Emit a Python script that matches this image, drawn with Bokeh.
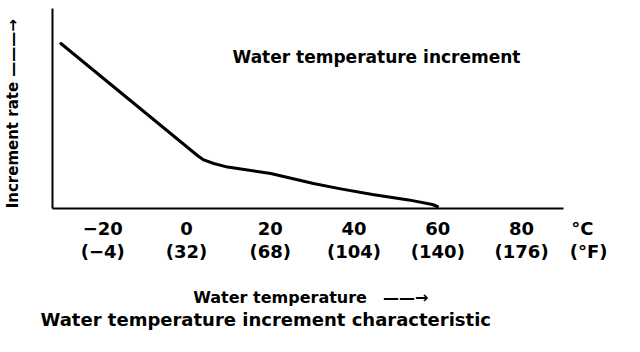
from bokeh.plotting import figure
from bokeh.models import Range1d, FixedTicker, LinearAxis, Label, Title
from bokeh.embed import file_html
from bokeh.resources import INLINE

# ---- data ----
temp_c = [-30.0, 2.6, 4.1, 6.5, 9.8, 12.2, 20.1, 30.3, 36.8, 44.4, 53.0, 58.7, 59.9]
rate = [8.25, 2.65, 2.43, 2.25, 2.07, 2.0, 1.75, 1.25, 0.98, 0.70, 0.43, 0.20, 0.10]
tick_c = [-20, 0, 20, 40, 60, 80]
tick_c_labels = ["\u221220", "0", "20", "40", "60", "80"]
tick_f_labels = ["(\u22124)", "(32)", "(68)", "(104)", "(140)", "(176)"]

title_text = "Water temperature increment"
y_label_text = "Increment rate \u2014\u2014\u2014\u2192"
x_label_text = "Water temperature\u2003\u2014\u2014\u2192"
caption_text = "Water temperature increment characteristic"
unit_c = "\u00b0C"
unit_f = "(\u00b0F)"

x_start, x_end = -32, 90
FONT = "DejaVu Sans"
W, H = 640, 352
NB = "\u00a0"

p = figure(width=W, height=H, output_backend="svg", toolbar_location=None,
           x_range=Range1d(x_start, x_end), y_range=Range1d(0, 10),
           min_border_left=52, min_border_right=77, min_border_top=8,
           min_border_bottom=144, x_axis_type=None, y_axis_type=None)
p.outline_line_color = None
p.background_fill_color = "white"
p.border_fill_color = "white"

common = dict(major_tick_line_color=None, minor_tick_line_color=None,
              major_tick_in=0, major_tick_out=0, minor_tick_in=0, minor_tick_out=0,
              major_label_text_font=FONT, major_label_text_font_style="bold",
              major_label_text_font_size="18px", major_label_text_color="black")

# unit labels sit at the right end of the scale
c_over = {t: l for t, l in zip(tick_c, tick_c_labels)}
c_over[x_end] = NB * 6 + unit_c
f_over = {t: l for t, l in zip(tick_c, tick_f_labels)}
f_over[x_end] = NB * 8 + unit_f

ax_c = LinearAxis(ticker=FixedTicker(ticks=tick_c + [x_end]),
                  major_label_overrides=c_over,
                  axis_line_width=2, axis_line_color="black",
                  major_label_standoff=9, **common)
p.add_layout(ax_c, "below")

ax_f = LinearAxis(ticker=FixedTicker(ticks=tick_c + [x_end]),
                  major_label_overrides=f_over,
                  axis_line_color=None, major_label_standoff=-1,
                  axis_label=NB + x_label_text, axis_label_standoff=23,
                  axis_label_text_font=FONT, axis_label_text_font_style="bold",
                  axis_label_text_font_size="16px", axis_label_text_color="black",
                  **common)
p.add_layout(ax_f, "below")

ax_y = LinearAxis(ticker=FixedTicker(ticks=[]), axis_line_width=2, axis_line_color="black",
                  major_tick_line_color=None, minor_tick_line_color=None,
                  major_tick_in=0, major_tick_out=0, major_label_text_font_size="0px",
                  axis_label=y_label_text + NB * 2, axis_label_standoff=31,
                  axis_label_text_font=FONT, axis_label_text_font_style="bold",
                  axis_label_text_font_size="15px", axis_label_text_color="black")
p.add_layout(ax_y, "left")

p.line(temp_c, rate, line_width=3, line_color="black", line_join="round", line_cap="round")

p.add_layout(Label(x=232, y=56, x_units="canvas", y_units="canvas", text=title_text,
                   text_font=FONT, text_font_style="bold", text_font_size="17px",
                   text_color="black", text_baseline="alphabetic"))

p.add_layout(Title(text=caption_text, align="left", offset=-12, standoff=-1,
                   vertical_align="top", text_font=FONT, text_font_style="bold",
                   text_font_size="18px", text_color="black"), "below")

open("out.html", "w").write(file_html(p, INLINE))
